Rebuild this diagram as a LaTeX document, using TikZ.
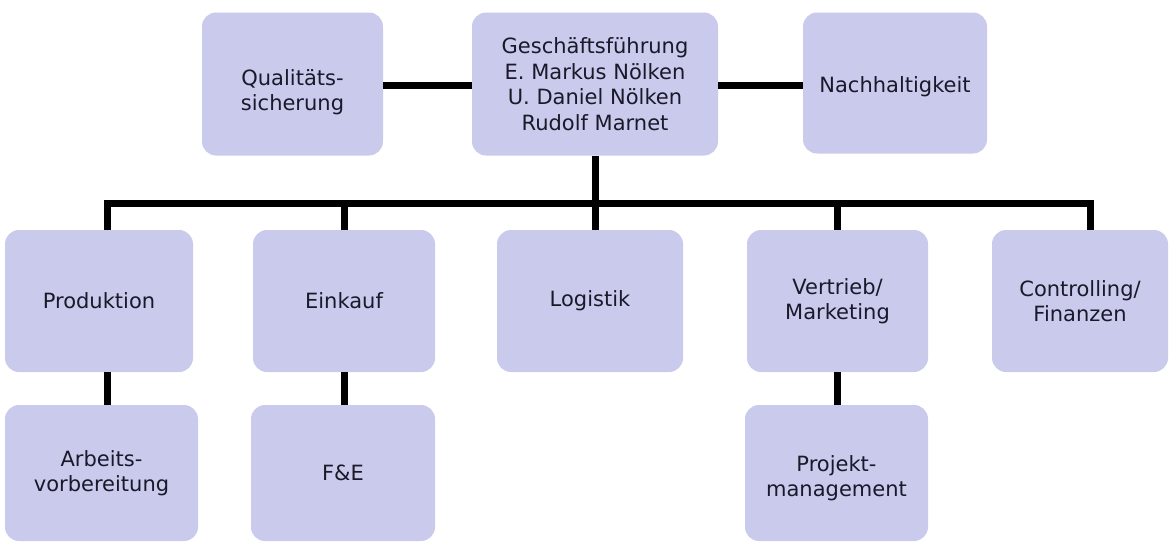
\documentclass[tikz,border=0pt]{standalone}
\usepackage{fontspec}
\setmainfont{DejaVu Sans}
\definecolor{boxfill}{RGB}{202,202,237}
\definecolor{txt}{RGB}{25,25,42}
\tikzset{
  orgbox/.style={draw=none, fill=boxfill, rounded corners=14pt, inner sep=0pt,
    align=center, text=txt, font=\fontsize{21}{25.5}\selectfont},
  lbl/.style={inner sep=0pt, align=center, text=txt, font=\fontsize{21}{25.5}\selectfont},
  conn/.style={line width=7pt, draw=black}
}
\begin{document}
\begin{tikzpicture}[x=1pt,y=-1pt]
\useasboundingbox (0,0) rectangle (1170,544);
% top row
\node[orgbox, minimum width=181pt, minimum height=143pt] (qs) at (292.5,84) {};
\node[lbl] (qst) at ([yshift=-8pt]qs.center) {Qualitäts-\\sicherung};
\node[orgbox, minimum width=246pt, minimum height=143pt] (gf) at (595,84) {Geschäftsführung\\E. Markus Nölken\\U. Daniel Nölken\\Rudolf Marnet};
\node[orgbox, minimum width=184pt, minimum height=141pt] (nh) at (895,83) {};
\node[lbl] (nht) at ([yshift=-4pt]nh.center) {Nachhaltigkeit};
% second row
\node[orgbox, minimum width=188pt, minimum height=142pt] (prod) at (99,301) {Produktion};
\node[orgbox, minimum width=182pt, minimum height=142pt] (eink) at (344,301) {Einkauf};
\node[orgbox, minimum width=186pt, minimum height=142pt] (log) at (590,301) {Logistik};
\node[orgbox, minimum width=181pt, minimum height=142pt] (vert) at (837.5,301) {Vertrieb/\\Marketing};
\node[orgbox, minimum width=176pt, minimum height=142pt] (ctrl) at (1080,301) {Controlling/\\Finanzen};
% third row
\node[orgbox, minimum width=193pt, minimum height=136pt] (av) at (101.5,473) {Arbeits-\\vorbereitung};
\node[orgbox, minimum width=184pt, minimum height=136pt] (fe) at (343,473) {F\&E};
\node[orgbox, minimum width=183pt, minimum height=136pt] (pm) at (836.5,473) {};
\node[lbl] (pmt) at ([yshift=-5pt]pm.center) {Projekt-\\management};
% connectors
\coordinate (busL) at (107,203);
\coordinate (busR) at (1090,203);
\draw[conn] (qs.east |- 0,85) -- (gf.west |- 0,85);
\draw[conn] (gf.east |- 0,85) -- (nh.west |- 0,85);
\draw[conn] (gf.south) -- (gf.south |- busL);
\draw[conn] (prod.north -| busL) -- (busL) -- (busR) -- (ctrl.north -| busR);
\draw[conn] (eink.north) -- (eink.north |- busL);
\draw[conn] (log.north -| gf.south) -- (gf.south |- busL);
\draw[conn] (vert.north) -- (vert.north |- busL);
\draw[conn] (prod.south -| busL) -- (av.north -| busL);
\draw[conn] (eink.south) -- (fe.north -| eink.south);
\draw[conn] (vert.south) -- (pm.north -| vert.south);
\end{tikzpicture}
\end{document}
